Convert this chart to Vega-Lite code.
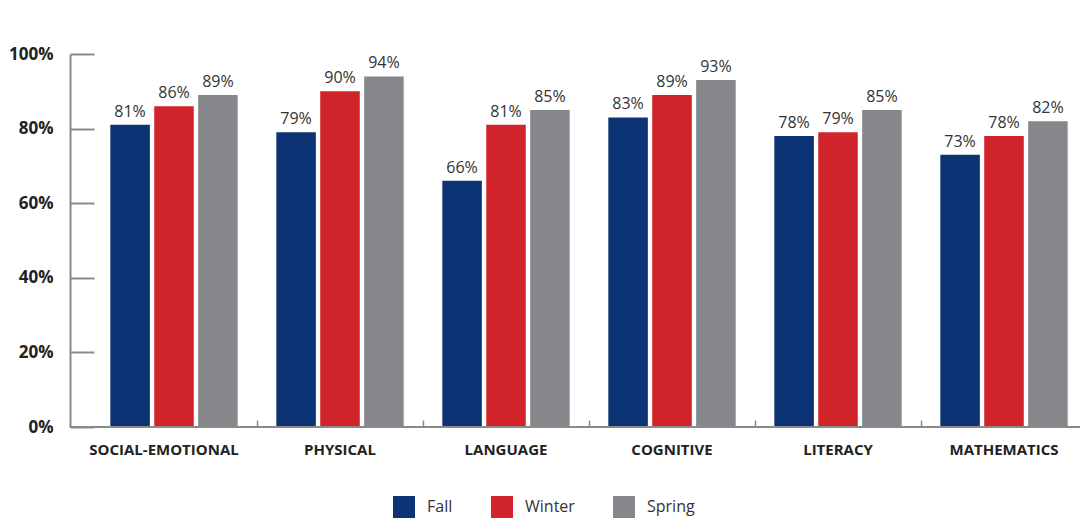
{
  "$schema": "https://vega.github.io/schema/vega-lite/v6.json",
  "autosize": "none",
  "width": 1010,
  "height": 373,
  "padding": {"left": 70, "top": 54, "right": 1, "bottom": 93},
  "background": "white",
  "config": {
    "view": {"stroke": null},
    "font": "Open Sans",
    "axis": {"grid": false}
  },
  "data": {
    "values": [
      {"domain": "SOCIAL-EMOTIONAL", "season": "Fall", "value": 0.81},
      {"domain": "SOCIAL-EMOTIONAL", "season": "Winter", "value": 0.86},
      {"domain": "SOCIAL-EMOTIONAL", "season": "Spring", "value": 0.89},
      {"domain": "PHYSICAL", "season": "Fall", "value": 0.79},
      {"domain": "PHYSICAL", "season": "Winter", "value": 0.90},
      {"domain": "PHYSICAL", "season": "Spring", "value": 0.94},
      {"domain": "LANGUAGE", "season": "Fall", "value": 0.66},
      {"domain": "LANGUAGE", "season": "Winter", "value": 0.81},
      {"domain": "LANGUAGE", "season": "Spring", "value": 0.85},
      {"domain": "COGNITIVE", "season": "Fall", "value": 0.83},
      {"domain": "COGNITIVE", "season": "Winter", "value": 0.89},
      {"domain": "COGNITIVE", "season": "Spring", "value": 0.93},
      {"domain": "LITERACY", "season": "Fall", "value": 0.78},
      {"domain": "LITERACY", "season": "Winter", "value": 0.79},
      {"domain": "LITERACY", "season": "Spring", "value": 0.85},
      {"domain": "MATHEMATICS", "season": "Fall", "value": 0.73},
      {"domain": "MATHEMATICS", "season": "Winter", "value": 0.78},
      {"domain": "MATHEMATICS", "season": "Spring", "value": 0.82}
    ]
  },
  "encoding": {
    "x": {
      "field": "domain",
      "type": "nominal",
      "sort": null,
      "scale": {"range": [21, 1017], "paddingInner": 0, "paddingOuter": 0},
      "axis": {
        "title": null,
        "domain": false,
        "labelAngle": 0,
        "labelFont": "Open Sans",
        "labelFontWeight": "bold",
        "labelFontSize": 15,
        "labelColor": "#222222",
        "labelPadding": 22,
        "labelOffset": {"condition": {"test": "datum.value === 'SOCIAL-EMOTIONAL'", "value": -10}, "value": 0},
        "bandPosition": 1,
        "ticks": true,
        "tickSize": -7,
        "tickColor": "#8a8a8a",
        "tickWidth": 1.5
      }
    },
    "xOffset": {
      "field": "season",
      "type": "nominal",
      "sort": ["Fall", "Winter", "Spring"],
      "scale": {"paddingInner": 0.1, "paddingOuter": 0.44}
    },
    "y": {
      "field": "value",
      "type": "quantitative",
      "scale": {"domain": [0, 1], "nice": false},
      "axis": {
        "title": null,
        "values": [0, 0.2, 0.4, 0.6, 0.8, 1],
        "format": ".0%",
        "labelFont": "Open Sans",
        "labelFontWeight": "bold",
        "labelFontSize": 17,
        "labelColor": "#222222",
        "labelPadding": 41,
        "domainColor": "#8a8a8a",
        "domainWidth": 2,
        "tickColor": "#8a8a8a",
        "tickWidth": 2,
        "tickSize": -24
      }
    }
  },
  "layer": [
    {
      "mark": {"type": "bar"},
      "encoding": {
        "color": {
          "field": "season",
          "type": "nominal",
          "sort": ["Fall", "Winter", "Spring"],
          "scale": {"domain": ["Fall", "Winter", "Spring"], "range": ["#0c3374", "#d1232a", "#86878a"]},
          "legend": {
            "title": null,
            "orient": "none",
            "direction": "horizontal",
            "legendX": 323,
            "legendY": 442,
            "symbolType": "square",
            "symbolSize": 484,
            "symbolStrokeWidth": 0,
            "labelFont": "Open Sans",
            "labelFontSize": 16,
            "labelColor": "#333333",
            "labelOffset": 12,
            "columnPadding": 38
          }
        }
      }
    },
    {
      "mark": {"type": "text", "baseline": "alphabetic", "dy": -8, "font": "Open Sans", "fontSize": 16, "color": "#333333"},
      "encoding": {
        "text": {"field": "value", "type": "quantitative", "format": ".0%"}
      }
    },
    {
      "mark": {"type": "rule", "color": "#8a8a8a", "strokeWidth": 2},
      "encoding": {"y": {"datum": 0}, "x": null, "xOffset": null}
    }
  ]
}
